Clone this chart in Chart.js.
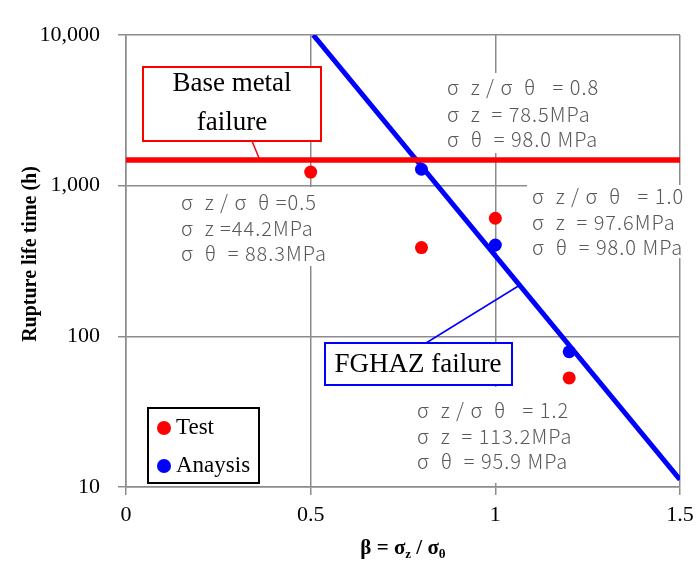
<!DOCTYPE html>
<html><head><meta charset="utf-8">
<script src="https://cdn.jsdelivr.net/npm/chart.js@4.4.0/dist/chart.umd.min.js"></script>
<style>html,body{margin:0;padding:0;background:#fff}#wrap{width:697px;height:568px;position:relative}</style>
</head><body><div id="wrap"><canvas id="c"></canvas></div>
<script>
// ---- data ----
const testX = [0.5, 0.8, 1.0, 1.2];
const testY = [1230, 388, 608, 53];
const analysisX = [0.8, 1.0, 1.2];
const analysisY = [1285, 404, 79];
const baseMetalX = [0, 1.5];
const baseMetalY = [1480, 1480];
const fghazX = [0.507, 1.5];
const fghazY = [10000, 11.2];
const xTicks = [0, 0.5, 1, 1.5];
const yTicks = [10, 100, 1000, 10000];
const seriesLabels = ['Test', 'Anaysis'];
const note05 = ['σ  z / σ  θ =0.5', 'σ  z =44.2MPa', 'σ  θ  = 88.3MPa'];
const note08 = ['σ  z / σ  θ   = 0.8', 'σ  z  = 78.5MPa', 'σ  θ  = 98.0 MPa'];
const note10 = ['σ  z / σ  θ   = 1.0', 'σ  z  = 97.6MPa', 'σ  θ  = 98.0 MPa'];
const note12 = ['σ  z / σ  θ   = 1.2', 'σ  z  = 113.2MPa', 'σ  θ  = 95.9 MPa'];
const baseMetalLabel = ['Base metal', 'failure'];
const fghazLabel = ['FGHAZ failure'];
const yTitle = 'Rupture life time (h)';

const pts = (xs, ys) => xs.map((x, i) => ({x, y: ys[i]}));
const RED = '#ff0000', BLUE = '#0000ff', GRID = '#8c8c8c';
const SERIF = '"Liberation Serif", "Times New Roman", serif';
const JP = '"Noto Sans CJK JP", "Noto Sans", sans-serif';

const notesLayout = [
  {lines: note05, box: [175, 187, 340, 266], x: 181, ys: [202, 228, 253]},
  {lines: note08, box: [440, 73, 615, 153], x: 447, ys: [87, 114, 139]},
  {lines: note10, box: [527, 185, 694, 258], x: 532, ys: [196, 222, 247]},
  {lines: note12, box: [410, 387, 585, 483], x: 417, ys: [410, 436, 461]}
];

const deco = {
  id: 'deco',
  afterDatasetsDraw(chart) {
    const ctx = chart.ctx;
    ctx.save();
    notesLayout.forEach(n => {
      ctx.fillStyle = '#fff';
      ctx.fillRect(n.box[0], n.box[1], n.box[2] - n.box[0], n.box[3] - n.box[1]);
    });
    ctx.font = '300 20px ' + JP;
    ctx.textBaseline = 'middle';
    ctx.textAlign = 'left';
    try { ctx.letterSpacing = '1px'; } catch (e) {}
    notesLayout.forEach(n => {
      ctx.fillStyle = '#595959';
      n.lines.forEach((t, i) => ctx.fillText(t, n.x, n.ys[i]));
    });
    try { ctx.letterSpacing = '0px'; } catch (e) {}
    // base metal callout
    ctx.strokeStyle = RED; ctx.lineWidth = 1.5;
    ctx.beginPath(); ctx.moveTo(252, 141); ctx.lineTo(259, 158); ctx.stroke();
    ctx.fillStyle = '#fff';
    ctx.fillRect(143, 67, 178, 74);
    ctx.lineWidth = 2;
    ctx.strokeRect(143, 67, 178, 74);
    ctx.fillStyle = '#000';
    ctx.font = '27px ' + SERIF;
    ctx.textAlign = 'center';
    ctx.fillText(baseMetalLabel[0], 232, 84);
    ctx.fillText(baseMetalLabel[1], 232, 123);
    // FGHAZ callout
    ctx.strokeStyle = BLUE; ctx.lineWidth = 1.5;
    ctx.beginPath(); ctx.moveTo(426, 343); ctx.lineTo(520, 285); ctx.stroke();
    ctx.fillStyle = '#fff';
    ctx.fillRect(325, 343, 187, 42);
    ctx.lineWidth = 2;
    ctx.strokeRect(325, 343, 187, 42);
    ctx.fillStyle = '#000';
    ctx.fillText(fghazLabel[0], 418, 365);
    // legend
    ctx.strokeStyle = '#000'; ctx.lineWidth = 2;
    ctx.fillStyle = '#fff';
    ctx.fillRect(148, 408, 111, 75);
    ctx.strokeRect(148, 408, 111, 75);
    ctx.font = '23px ' + SERIF;
    ctx.textAlign = 'left';
    const lc = [RED, BLUE], ly = [428, 466];
    seriesLabels.forEach((l, i) => {
      ctx.fillStyle = lc[i];
      ctx.beginPath(); ctx.arc(164, ly[i], 7, 0, Math.PI * 2); ctx.fill();
      ctx.fillStyle = '#000';
      ctx.fillText(l, 176, ly[i]);
    });
    // y title
    ctx.save();
    ctx.translate(31, 254);
    ctx.rotate(-Math.PI / 2);
    ctx.font = 'bold 20px ' + SERIF;
    ctx.textAlign = 'center';
    ctx.fillText(yTitle, 0, 0);
    ctx.restore();
    // x title  β = σz / σθ
    const parts = [['β = σ', 0], ['z', 1], [' / σ', 0], ['θ', 1]];
    let w = 0;
    parts.forEach(p => { ctx.font = (p[1] ? 'bold 13px ' : 'bold 21px ') + SERIF; w += ctx.measureText(p[0]).width; });
    let x = 403 - w / 2;
    ctx.textAlign = 'left';
    ctx.textBaseline = 'alphabetic';
    parts.forEach(p => {
      ctx.font = (p[1] ? 'bold 13px ' : 'bold 21px ') + SERIF;
      ctx.fillText(p[0], x, p[1] ? 558 : 554);
      x += ctx.measureText(p[0]).width;
    });
    ctx.restore();
  }
};

new Chart(document.getElementById('c'), {
  type: 'scatter',
  data: {
    datasets: [
      {label: seriesLabels[0], data: pts(testX, testY), backgroundColor: RED, borderColor: RED, pointRadius: 6.5, pointBorderWidth: 0},
      {label: seriesLabels[1], data: pts(analysisX, analysisY), backgroundColor: BLUE, borderColor: BLUE, pointRadius: 6.5, pointBorderWidth: 0},
      {label: 'Base metal', data: pts(baseMetalX, baseMetalY), showLine: true, borderColor: RED, borderWidth: 5.5, pointRadius: 0},
      {label: 'FGHAZ', data: pts(fghazX, fghazY), showLine: true, borderColor: BLUE, borderWidth: 5, pointRadius: 0}
    ]
  },
  options: {
    responsive: true, maintainAspectRatio: false, animation: false,
    devicePixelRatio: 1,
    layout: {padding: {top: 35, right: 17, left: 0, bottom: 0}},
    plugins: {legend: {display: false}, tooltip: {enabled: false}},
    scales: {
      x: {
        type: 'linear', min: 0, max: 1.5,
        afterBuildTicks: s => { s.ticks = xTicks.map(v => ({value: v})); },
        afterFit: s => { s.height = 81; s.paddingLeft = 0; s.paddingRight = 0; },
        ticks: {callback: v => String(v), color: '#000', font: {family: SERIF, size: 22}, padding: 7, maxRotation: 0, autoSkip: false},
        grid: {color: GRID, lineWidth: 1.5, tickLength: 8, tickColor: GRID},
        border: {color: GRID, width: 1.5}
      },
      y: {
        type: 'logarithmic', min: 10, max: 10000,
        afterBuildTicks: s => { s.ticks = yTicks.map(v => ({value: v})); },
        afterFit: s => { s.width = 126; },
        ticks: {callback: v => v.toLocaleString('en-US'), color: '#000', font: {family: SERIF, size: 22}, padding: 18, autoSkip: false},
        grid: {color: GRID, lineWidth: 1.5, tickLength: 8, tickColor: GRID},
        border: {color: GRID, width: 1.5}
      }
    }
  },
  plugins: [deco]
});
</script></body></html>
